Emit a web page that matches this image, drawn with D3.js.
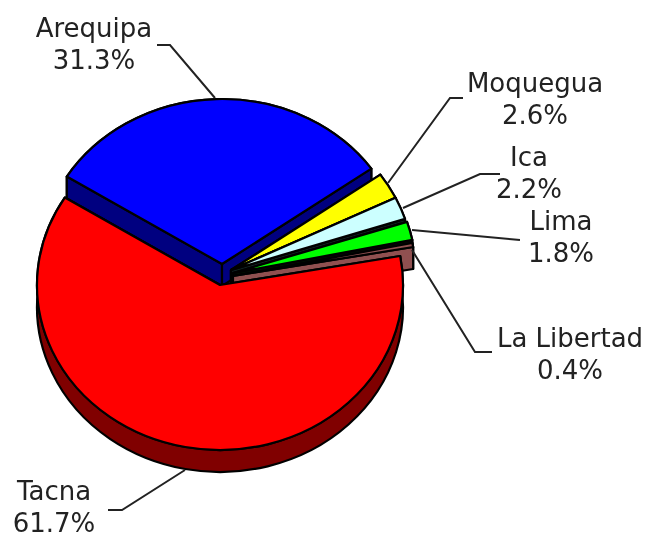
<!DOCTYPE html>
<html lang="es">
<head>
<meta charset="utf-8">
<title>Pie</title>
<script src="https://cdn.jsdelivr.net/npm/d3@7"></script>
<style>
	html, body { margin: 0; background: white; }
	svg { display: block; filter: blur(0.6px); }
	text { font-family: "DejaVu Sans", sans-serif; font-size: 26px; fill: #222; text-anchor: middle; }
	.lead { fill: none; stroke: #222; stroke-width: 2; }
	.face { stroke: black; stroke-width: 2.2; stroke-linejoin: round; }
</style>
</head>
<body>
<div class="chart"></div>
<script>
var names = ["Arequipa", "Moquegua", "Ica", "Lima", "La Libertad", "Tacna"];
var shares = [31.3, 2.6, 2.2, 1.8, 0.4, 61.7];

// look of each slice, same order as names
var topColors = ["#0000ff", "#ffff00", "#ccffff", "#00ff00", "#905050", "#ff0000"];
var sideColors = ["#000080", "#202000", "#102020", "#001000", "#905050", "#800000"];
var pull = [[2, -21], [11, -15], [11, -15], [13, -12], [13, -9], [0, 0]];

var w = 646, h = 538;
var cx = 220, cy = 285, rx = 183, ry = 165, depth = 22;

// label centre x, first line y, and leader line points
var labelPos = [
	{x: 94, y: 37, lead: [[157, 45], [170, 45], [215, 98]]},
	{x: 535, y: 92, lead: [[463, 98], [450, 98], [388, 183]]},
	{x: 529, y: 166, lead: [[500, 174], [480, 174], [403, 208]]},
	{x: 561, y: 230, lead: [[520, 240], [412, 230]]},
	{x: 570, y: 347, lead: [[492, 352], [475, 352], [412, 250]]},
	{x: 54, y: 500, lead: [[108, 510], [122, 510], [185, 470]]}
];

var svg = d3.select("div.chart").append("svg")
	.attr("width", w)
	.attr("height", h);

var pie = d3.pie()
	.sort(null)
	.startAngle(-58 * Math.PI / 180)
	.endAngle(302 * Math.PI / 180);

var slices = pie(shares);
var line = d3.line();

function rimPoint(a, x0, y0) {
	return [x0 + rx * Math.sin(a), y0 - ry * Math.cos(a)];
}

function topPath(d, x0, y0) {
	var p0 = rimPoint(d.startAngle, x0, y0);
	var p1 = rimPoint(d.endAngle, x0, y0);
	var large = d.endAngle - d.startAngle > Math.PI ? 1 : 0;
	return "M" + x0 + "," + y0 + "L" + p0 + "A" + rx + "," + ry + " 0 " + large + " 1 " + p1 + "Z";
}

function rimPath(d, x0, y0) {
	var p0 = rimPoint(d.startAngle, x0, y0);
	var p1 = rimPoint(d.endAngle, x0, y0);
	var large = d.endAngle - d.startAngle > Math.PI ? 1 : 0;
	return "M" + p0 + "A" + rx + "," + ry + " 0 " + large + " 1 " + p1
		+ "L" + p1[0] + "," + (p1[1] + depth)
		+ "A" + rx + "," + ry + " 0 " + large + " 0 " + p0[0] + "," + (p0[1] + depth) + "Z";
}

function wallPath(a, x0, y0) {
	var p = rimPoint(a, x0, y0);
	return line([[x0, y0], p, [p[0], p[1] + depth], [x0, y0 + depth]]) + "Z";
}

var groups = svg.selectAll("g.slice")
	.data(slices)
	.enter()
	.append("g")
	.attr("class", "slice");

groups.each(function(d) {
	var g = d3.select(this);
	var x0 = cx + pull[d.index][0];
	var y0 = cy + pull[d.index][1];
	var side = sideColors[d.index];

	g.append("path").attr("class", "face").attr("fill", side).attr("d", rimPath(d, x0, y0));
	g.append("path").attr("class", "face").attr("fill", side).attr("d", wallPath(d.startAngle, x0, y0));
	g.append("path").attr("class", "face").attr("fill", side).attr("d", wallPath(d.endAngle, x0, y0));
	g.append("path").attr("class", "face").attr("fill", topColors[d.index]).attr("d", topPath(d, x0, y0));
});

svg.selectAll("path.lead")
	.data(labelPos)
	.enter()
	.append("path")
	.attr("class", "lead")
	.attr("d", function(d) { return line(d.lead); });

var labels = svg.selectAll("text.label")
	.data(names)
	.enter()
	.append("text")
	.attr("class", "label")
	.attr("x", function(d, i) { return labelPos[i].x; })
	.attr("y", function(d, i) { return labelPos[i].y; });

labels.append("tspan").text(function(d) { return d; });
labels.append("tspan")
	.attr("x", function(d, i) { return labelPos[i].x; })
	.attr("dy", 32)
	.text(function(d, i) { return shares[i].toFixed(1) + "%"; });
</script>
</body>
</html>
